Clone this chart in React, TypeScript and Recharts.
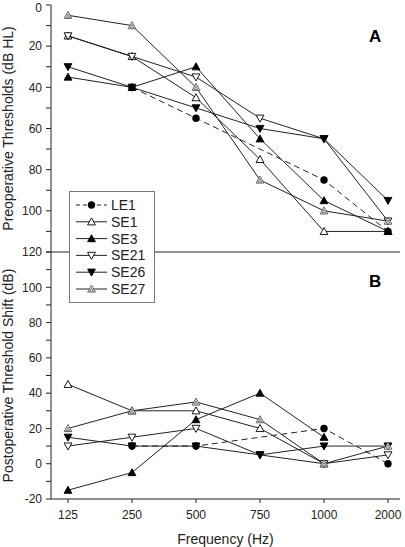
import React from 'react';
import { LineChart, Line, XAxis, YAxis } from 'recharts';

const freqs = ['125', '250', '500', '750', '1000', '2000'];
const names = ['LE1', 'SE1', 'SE3', 'SE21', 'SE26', 'SE27'];

// panel A - preoperative thresholds (dB HL)
const preLE1 = [null, 40, 55, null, 85, 110];
const preSE1 = [15, 25, 45, 75, 110, 110];
const preSE3 = [35, 40, 30, 65, 95, 110];
const preSE21 = [15, 25, 35, 55, 65, 105];
const preSE26 = [30, 40, 50, 60, 65, 95];
const preSE27 = [5, 10, 40, 85, 100, 105];

// panel B - postoperative threshold shift (dB)
const postLE1 = [null, 10, 10, null, 20, 0];
const postSE1 = [45, 30, 30, 20, 0, null];
const postSE3 = [-15, -5, 25, 40, 15, null];
const postSE21 = [10, 15, 20, 5, 0, 5];
const postSE26 = [15, 10, 10, 5, 10, 10];
const postSE27 = [20, 30, 35, 25, 0, 10];

const preTicks = [0, 10, 20, 30, 40, 50, 60, 70, 80, 90, 100, 110, 120];
const postTicks = [-20, -10, 0, 10, 20, 30, 40, 50, 60, 70, 80, 90, 100, 110, 120];

const markerKind: Record<string, string> = {
  LE1: 'circle',
  SE1: 'upOpen',
  SE3: 'upFilled',
  SE21: 'downOpen',
  SE26: 'downFilled',
  SE27: 'upGray',
};

const drawOrder = ['SE1', 'SE3', 'SE21', 'SE26', 'SE27', 'LE1'];

const buildRows = (cols: Record<string, (number | null)[]>) =>
  freqs.map((f, i) => {
    const row: any = { f };
    names.forEach((n) => {
      row[n] = cols[n][i];
    });
    return row;
  });

const preData = buildRows({ LE1: preLE1, SE1: preSE1, SE3: preSE3, SE21: preSE21, SE26: preSE26, SE27: preSE27 });
const postData = buildRows({ LE1: postLE1, SE1: postSE1, SE3: postSE3, SE21: postSE21, SE26: postSE26, SE27: postSE27 });

const INK = '#222';
const FONT = '"Liberation Sans", Arial, sans-serif';

const Marker = ({ cx, cy, kind }: { cx: number; cy: number; kind: string }) => {
  const s = 3.9;
  const up = `${cx},${cy - s} ${cx - s},${cy + s * 0.8} ${cx + s},${cy + s * 0.8}`;
  const down = `${cx},${cy + s} ${cx - s},${cy - s * 0.8} ${cx + s},${cy - s * 0.8}`;
  if (kind === 'circle') return <circle cx={cx} cy={cy} r={3.7} fill="#000" />;
  if (kind === 'upOpen') return <polygon points={up} fill="#fff" stroke="#000" strokeWidth={0.9} />;
  if (kind === 'upFilled') return <polygon points={up} fill="#000" stroke="#000" strokeWidth={0.9} />;
  if (kind === 'downOpen') return <polygon points={down} fill="#fff" stroke="#000" strokeWidth={0.9} />;
  if (kind === 'downFilled') return <polygon points={down} fill="#000" stroke="#000" strokeWidth={0.9} />;
  const t = 1.8;
  const inner = `${cx},${cy - t + 0.6} ${cx - t},${cy + t * 0.8 + 0.6} ${cx + t},${cy + t * 0.8 + 0.6}`;
  return (
    <g>
      <polygon points={up} fill="#fff" stroke="#555" strokeWidth={0.9} />
      <polygon points={inner} fill="none" stroke="#555" strokeWidth={0.8} />
    </g>
  );
};

const dotFor = (name: string) => (p: any) => {
  const k = `${name}-${p.index}`;
  if (p.cy == null || p.value == null || Number.isNaN(p.cy)) return <g key={k} />;
  return (
    <g key={k}>
      <Marker cx={p.cx} cy={p.cy} kind={markerKind[name]} />
    </g>
  );
};

const renderLines = () =>
  drawOrder.map((n) => (
    <Line
      key={n}
      type="linear"
      dataKey={n}
      stroke={INK}
      strokeWidth={1}
      strokeDasharray={n === 'LE1' ? '6 4' : undefined}
      dot={dotFor(n)}
      activeDot={false}
      connectNulls
      isAnimationActive={false}
    />
  ));

const tickStyle = { fontSize: 12, fill: INK, fontFamily: FONT };
const labelStyle = { textAnchor: 'middle' as const, fontSize: 14, fill: INK, fontFamily: FONT };

// y tick labels only every 20; the top "0" is nudged down a little so it is not clipped
const YTick = (props: any) => {
  const { x, y, payload, hide120 } = props;
  const v = payload.value;
  if (v % 20 !== 0 || (hide120 && v === 120)) return <g />;
  const nudge = v === 0 && !hide120 ? 2.5 : 0;
  return (
    <text x={x} y={y + nudge} dy="0.355em" textAnchor="end" fontSize={12} fill={INK} fontFamily={FONT}>
      {v}
    </text>
  );
};

const LegendBox = () => (
  <div
    style={{
      position: 'absolute',
      left: 69,
      top: 191,
      width: 86,
      height: 112,
      boxSizing: 'border-box',
      border: '1px solid #777',
      background: '#fff',
      zIndex: 5,
    }}
  >
    <svg width={84} height={110}>
      {names.map((n, i) => {
        const y = 13 + i * 16.8;
        return (
          <g key={n}>
            <line x1={6} x2={37} y1={y} y2={y} stroke={INK} strokeWidth={1} strokeDasharray={n === 'LE1' ? '4 3' : undefined} />
            <Marker cx={21.5} cy={y} kind={markerKind[n]} />
            <text x={41} y={y} dominantBaseline="central" fontSize={14} fill={INK} fontFamily={FONT}>
              {n}
            </text>
          </g>
        );
      })}
    </svg>
  </div>
);

const PanelTag = ({ text, top }: { text: string; top: number }) => (
  <div
    style={{
      position: 'absolute',
      left: 369,
      top,
      fontFamily: FONT,
      fontWeight: 'bold',
      fontSize: 17,
      lineHeight: '17px',
      color: '#000',
      zIndex: 4,
    }}
  >
    {text}
  </div>
);

const App = () => {
  return (
    <div style={{ position: 'absolute', left: 0, top: 0, width: 405, height: 547, background: '#fff', fontFamily: FONT, overflow: 'hidden' }}>
      <div style={{ position: 'absolute', left: 0, top: -6 }}>
        <LineChart width={405} height={274} data={preData} margin={{ top: 11, right: 5, bottom: 0, left: 0 }}>
          <XAxis
            dataKey="f"
            height={16}
            tick={false}
            tickSize={3}
            padding={{ left: 17, right: 12 }}
            axisLine={{ stroke: INK }}
            tickLine={{ stroke: INK }}
          />
          <XAxis xAxisId="top" dataKey="f" orientation="top" height={0} tick={false} tickLine={false} axisLine={{ stroke: INK }} />
          <YAxis
            width={51}
            domain={[0, 120]}
            reversed
            ticks={preTicks}
            interval={0}
            tickSize={5}
            tickMargin={4}
            tick={<YTick />}
            axisLine={{ stroke: INK }}
            tickLine={{ stroke: INK }}
            label={{ value: 'Preoperative Thresholds (dB HL)', angle: -90, position: 'insideLeft', offset: 8, style: labelStyle }}
          />
          <YAxis yAxisId="right" orientation="right" width={0} domain={[0, 1]} tick={false} tickLine={false} axisLine={{ stroke: INK }} />
          {renderLines()}
        </LineChart>
      </div>
      <div style={{ position: 'absolute', left: 0, top: 247 }}>
        <LineChart width={405} height={300} data={postData} margin={{ top: 5, right: 5, bottom: 0, left: 0 }}>
          <XAxis
            dataKey="f"
            height={48}
            tickSize={4}
            tickMargin={7}
            interval={0}
            padding={{ left: 17, right: 12 }}
            tick={tickStyle}
            axisLine={{ stroke: INK }}
            tickLine={{ stroke: INK }}
            label={{ value: 'Frequency (Hz)', position: 'insideBottom', offset: 3, style: labelStyle }}
          />
          <YAxis
            width={51}
            domain={[-20, 120]}
            ticks={postTicks}
            interval={0}
            tickSize={5}
            tickMargin={4}
            tick={<YTick hide120 />}
            axisLine={{ stroke: INK }}
            tickLine={{ stroke: INK }}
            label={{ value: 'Postoperative Threshold Shift (dB)', angle: -90, position: 'insideLeft', offset: 8, style: labelStyle }}
          />
          <YAxis yAxisId="right" orientation="right" width={0} domain={[0, 1]} tick={false} tickLine={false} axisLine={{ stroke: INK }} />
          {renderLines()}
        </LineChart>
      </div>
      <PanelTag text="A" top={28} />
      <PanelTag text="B" top={273} />
      <LegendBox />
    </div>
  );
};

export default App;
